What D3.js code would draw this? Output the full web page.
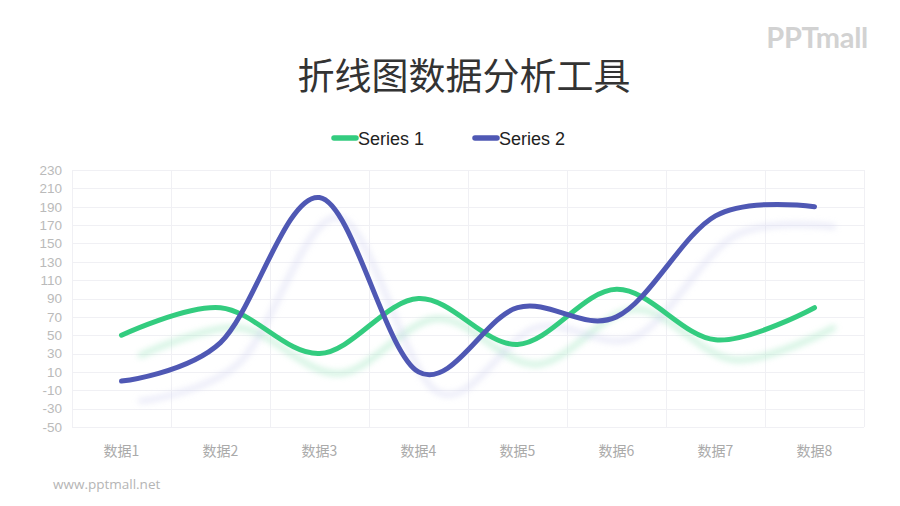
<!DOCTYPE html>
<html><head><meta charset="utf-8">
<script src="https://cdn.jsdelivr.net/npm/d3@7"></script>
<style>
html,body{margin:0;padding:0;background:#fff;}
svg{display:block;}
</style></head>
<body>
<svg id="chart" width="900" height="506"></svg>
<script>
const categories = ["数据1","数据2","数据3","数据4","数据5","数据6","数据7","数据8"];
const series1 = [50, 80, 30, 90, 40, 100, 45, 80];
const series2 = [0, 42, 200, 10, 80, 70, 180, 190];
const seriesNames = ["Series 1", "Series 2"];
const yTicks = [-50,-30,-10,10,30,50,70,90,110,130,150,170,190,210,230];
const titleText = "折线图数据分析工具";

const colors = ["#33cc7f", "#4f58b4"];
const shadowColors = ["#9fe6c0", "#d0d2f0"];

const svg = d3.select("#chart");
const m = {left: 72, right: 864, top: 170, bottom: 427};

const x = d3.scaleBand().domain(categories).range([m.left, m.right]);
const y = d3.scaleLinear().domain([-50, 230]).range([m.bottom, m.top]);

const defs = svg.append("defs");
const f = defs.append("filter").attr("id","blur").attr("x","-20%").attr("y","-20%").attr("width","140%").attr("height","140%");
f.append("feGaussianBlur").attr("stdDeviation", 3.2);

// Title
svg.append("text").attr("x", 464).attr("y", 90).attr("text-anchor","middle")
  .attr("font-family","'Noto Sans CJK SC', sans-serif").attr("font-size", 37)
  .attr("fill","#333").text(titleText);

// Logo
svg.append("text").attr("x", 868).attr("y", 48).attr("text-anchor","end")
  .attr("font-family","'Lato', 'Noto Sans', sans-serif").attr("font-weight","bold").attr("font-size", 29)
  .attr("letter-spacing", -0.3)
  .attr("fill","#d2d2d2").text("PPTmall");

// Footer
svg.append("text").attr("x", 53).attr("y", 489)
  .attr("font-family","'Open Sans', 'Noto Sans', sans-serif").attr("font-size", 13.5)
  .attr("fill","#b5b5b5").text("www.pptmall.net");

// Legend
const legendX = [334, 475];
seriesNames.forEach((n, i) => {
  const g = svg.append("g");
  g.append("line").attr("x1", legendX[i]).attr("x2", legendX[i] + 22)
    .attr("y1", 138).attr("y2", 138).attr("stroke", colors[i]).attr("stroke-width", 5.5)
    .attr("stroke-linecap","round");
  g.append("text").attr("x", legendX[i] + 24).attr("y", 144.5)
    .attr("font-family","'Liberation Sans', Arial, sans-serif").attr("font-size", 18)
    .attr("fill","#222").text(n);
});

// Grid
const grid = svg.append("g");
yTicks.forEach(t => {
  grid.append("line").attr("x1", m.left).attr("x2", m.right)
    .attr("y1", Math.round(y(t)) + 0.5).attr("y2", Math.round(y(t)) + 0.5)
    .attr("stroke", "#f0f0f4").attr("stroke-width", 1);
});
const vx = categories.map(c => x(c)).concat([m.right]);
vx.forEach(v => {
  grid.append("line").attr("x1", Math.round(v) + 0.5).attr("x2", Math.round(v) + 0.5)
    .attr("y1", m.top).attr("y2", m.bottom)
    .attr("stroke", "#f0f0f4").attr("stroke-width", 1);
});

// Y axis labels
const yAxis = d3.axisLeft(y).tickValues(yTicks).tickFormat(d => String(d)).tickSize(0).tickPadding(10);
const ya = svg.append("g").attr("transform", `translate(${m.left},0)`).call(yAxis);
ya.select(".domain").remove();
ya.selectAll("text").attr("font-family","'Liberation Sans', Arial, sans-serif")
  .attr("font-size", 13.5).attr("fill","#bababa");

// X axis labels
const xAxis = d3.axisBottom(x).tickSize(0).tickPadding(19);
const xa = svg.append("g").attr("transform", `translate(0,${m.bottom})`).call(xAxis);
xa.select(".domain").remove();
xa.selectAll("text").attr("font-family","'Noto Sans CJK SC', sans-serif")
  .attr("font-size", 14).attr("fill","#aaaaaa");

// Lines
const line = d3.line()
  .x((d, i) => x(categories[i]) + x.bandwidth() / 2)
  .y(d => y(d))
  .curve(d3.curveCardinal.tension(0));

const data = [series1, series2];
// Shadows
data.forEach((s, i) => {
  svg.append("path").attr("d", line(s)).attr("fill","none")
    .attr("stroke", shadowColors[i]).attr("stroke-width", 5).attr("stroke-linecap","round")
    .attr("opacity", i === 0 ? 0.55 : 0.5)
    .attr("transform","translate(19,20)").attr("filter","url(#blur)");
});
data.forEach((s, i) => {
  svg.append("path").attr("d", line(s)).attr("fill","none")
    .attr("stroke", colors[i]).attr("stroke-width", 5).attr("stroke-linecap","round")
    .attr("stroke-linejoin","round");
});
</script>
</body></html>
